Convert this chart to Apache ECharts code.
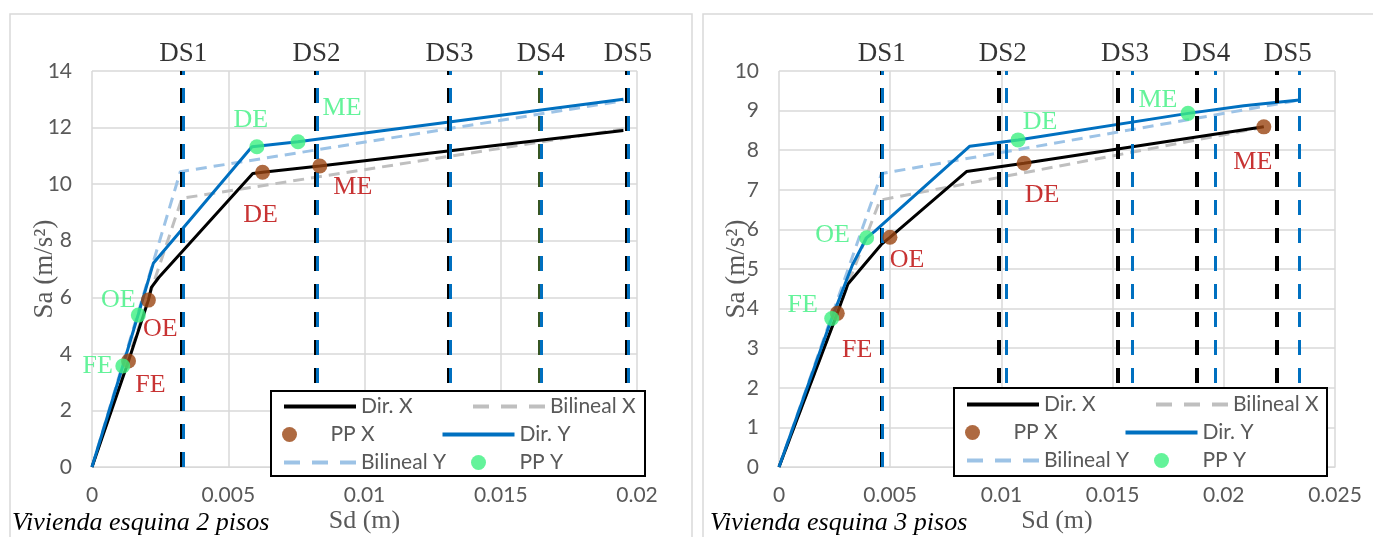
<!DOCTYPE html>
<html lang="es">
<head>
<meta charset="utf-8">
<script src="https://cdn.jsdelivr.net/npm/echarts@6.0.0/dist/echarts.min.js"></script>
<style>
  html, body { margin: 0; padding: 0; background: #fff; }
  #chart { width: 1373px; height: 537px; }
</style>
</head>
<body>
<div id="chart"></div>
<script>
// ---- Vivienda esquina 2 pisos ----
var dirX2 = [[0, 0], [0.00134, 3.75], [0.00207, 5.9], [0.00218, 6.35], [0.00245, 6.7], [0.0059, 10.38], [0.00626, 10.42], [0.00836, 10.64], [0.0195, 11.9]];
var dirY2 = [[0, 0], [0.00113, 3.57], [0.0017, 5.4], [0.00225, 7.2], [0.00587, 11.32], [0.00605, 11.34], [0.00756, 11.5], [0.0195, 13.0]];
var bilX2 = [[0, 0], [0.0033, 9.5], [0.0195, 11.95]];
var bilY2 = [[0, 0], [0.00324, 10.44], [0.0195, 12.95]];
var ppX2 = [[0.00134, 3.75], [0.00207, 5.9], [0.00626, 10.42], [0.00836, 10.64]];
var ppY2 = [[0.00113, 3.57], [0.0017, 5.37], [0.00605, 11.32], [0.00756, 11.5]];
var dsX2 = [0.00333, 0.00822, 0.01311, 0.01645, 0.01965];
var dsY2 = [0.00336, 0.00825, 0.01313, 0.01648, 0.01968];

// ---- Vivienda esquina 3 pisos ----
var dirX3 = [[0, 0], [0.00262, 3.88], [0.0031, 4.62], [0.0046, 5.62], [0.00499, 5.8], [0.00843, 7.46], [0.01102, 7.67], [0.0218, 8.59]];
var dirY3 = [[0, 0], [0.00237, 3.75], [0.0033, 5.1], [0.00394, 5.79], [0.0043, 5.95], [0.00858, 8.1], [0.01075, 8.26], [0.01839, 8.93], [0.0209, 9.12], [0.0234, 9.27]];
var bilX3 = [[0, 0], [0.00454, 6.74], [0.0215, 8.55]];
var bilY3 = [[0, 0], [0.00461, 7.41], [0.02326, 9.25]];
var ppX3 = [[0.00262, 3.88], [0.00499, 5.8], [0.01102, 7.67], [0.0218, 8.59]];
var ppY3 = [[0.00237, 3.75], [0.00394, 5.79], [0.01075, 8.26], [0.01839, 8.93]];
var dsX3 = [0.00461, 0.00988, 0.01521, 0.01878, 0.02236];
var dsY3 = [0.00464, 0.01024, 0.0159, 0.01963, 0.0234];

var ppNames = ['FE', 'OE', 'DE', 'ME'];
var dsNames = ['DS1', 'DS2', 'DS3', 'DS4', 'DS5'];
var captions = ['Vivienda esquina 2 pisos', 'Vivienda esquina 3 pisos'];

// label offsets (px) for the performance point labels
var offX2 = [[22, 24], [12, 29], [-2, 43], [33, 21]];
var offY2 = [[-25, 0], [-20, -15], [-6, -27], [44, -34]];
var offX3 = [[20, 37], [17, 23], [18, 32], [-11, 35]];
var offY3 = [[-29, -13], [-34, -3], [22, -18], [-30, -13]];

var C_BLACK = '#000000', C_BLUE = '#0070C0', C_GRAY = '#BFBFBF', C_LBLUE = '#9DC3E6';
var C_BROWN = '#9A4511', C_GREEN = '#3DF081', C_RED = '#BA0000';
var serif = '"Liberation Serif", "Times New Roman", serif';
var sans = 'Lato, "Open Sans", sans-serif';

var chart = echarts.init(document.getElementById('chart'));

function curve(name, data, color, dashed, gi, dsVals, dsWidth, dsColors) {
  var s = {
    type: 'line', name: name, data: data, xAxisIndex: gi, yAxisIndex: gi,
    symbol: 'none', color: color, z: 2, animation: false,
    lineStyle: { color: color, width: 3, type: dashed ? [11, 7] : 'solid' }
  };
  if (dsVals) {
    s.markLine = {
      silent: true, symbol: ['none', 'none'], animation: false, z: 5, precision: 6,
      label: { show: false },
      lineStyle: { color: color, width: dsWidth, type: [15, 13] },
      data: dsVals.map(function (v, i) {
        var d = { xAxis: v };
        if (dsColors && dsColors[i]) d.lineStyle = { color: dsColors[i] };
        return d;
      })
    };
  }
  return s;
}

function points(name, data, color, labelColor, offs, gi) {
  return {
    type: 'scatter', name: name, xAxisIndex: gi, yAxisIndex: gi,
    symbol: 'circle', symbolSize: 15, color: color, z: 6, animation: false,
    itemStyle: { color: color },
    label: { show: true, position: 'inside', formatter: '{b}', color: labelColor,
             fontFamily: serif, fontSize: 26 },
    data: data.map(function (p, i) {
      return { name: ppNames[i], value: p, label: { offset: offs[i] } };
    })
  };
}

function dsLabels(xs, ys, top, gi) {
  return {
    type: 'scatter', xAxisIndex: gi, yAxisIndex: gi, symbolSize: 0, z: 7, silent: true,
    animation: false,
    label: { show: true, position: 'top', distance: 4, formatter: '{b}', color: '#000',
             fontFamily: serif, fontSize: 27 },
    data: xs.map(function (v, i) {
      return { name: dsNames[i], value: [(v + ys[i]) / 2, top] };
    })
  };
}

function xAxis(gi, max) {
  return {
    type: 'value', gridIndex: gi, min: 0, max: max, interval: 0.005,
    name: 'Sd (m)', nameLocation: 'middle', nameGap: 41, nameMoveOverlap: false,
    nameTextStyle: { fontFamily: serif, fontSize: 26, color: '#595959' },
    axisLine: { show: true, lineStyle: { color: '#D9D9D9', width: 1 } },
    axisTick: { show: false },
    axisLabel: { margin: 18, fontFamily: sans, fontSize: 21, color: '#595959' },
    splitLine: { show: true, lineStyle: { color: '#D9D9D9', width: 1.5 } }
  };
}

function yAxis(gi, max, step, gap) {
  return {
    type: 'value', gridIndex: gi, min: 0, max: max, interval: step,
    name: 'Sa (m/s²)', nameLocation: 'middle', nameGap: gap, nameMoveOverlap: false,
    nameTextStyle: { fontFamily: serif, fontSize: 27, color: '#595959' },
    axisLine: { show: false }, axisTick: { show: false },
    axisLabel: { margin: 20, fontFamily: sans, fontSize: 21, color: '#595959' },
    splitLine: { show: true, lineStyle: { color: '#D9D9D9', width: 1.5 } }
  };
}

function legendRow(left, top, names) {
  return {
    left: left, top: top, orient: 'horizontal', padding: 0, z: 9,
    itemWidth: 72, itemHeight: 15, itemGap: 20, selectedMode: false,
    lineStyle: { width: 4 },
    textStyle: { width: 90, lineHeight: 15, fontFamily: sans, fontSize: 21, color: '#595959' },
    data: names.map(function (n) {
      if (n.indexOf('PP') === 0) return { name: n };
      var item = { name: n, itemStyle: { opacity: 0 }, lineStyle: { width: 4 } };
      if (n.indexOf('Bilineal') === 0) item.lineStyle.type = [16, 12];
      return item;
    })
  };
}

var rows = [['Dir. X', 'Bilineal X'], ['PP X', 'Dir. Y'], ['Bilineal Y', 'PP Y']];

var option = {
  backgroundColor: '#fff',
  animation: false,
  grid: [
    { left: 92, top: 71, width: 545, height: 396, outerBoundsMode: 'none' },
    { left: 779, top: 71, width: 556, height: 396, outerBoundsMode: 'none' }
  ],
  xAxis: [xAxis(0, 0.02), xAxis(1, 0.025)],
  yAxis: [yAxis(0, 14, 2, 34), yAxis(1, 10, 1, 29)],
  legend: [
    legendRow(282, 396, rows[0]), legendRow(282, 424, rows[1]), legendRow(282, 452, rows[2]),
    legendRow(965, 394, rows[0]), legendRow(965, 422, rows[1]), legendRow(965, 450, rows[2])
  ],
  graphic: [
    { type: 'rect', shape: { x: 10, y: 14, width: 682, height: 540 }, style: { fill: null, stroke: '#D9D9D9', lineWidth: 1.5 }, z: -10 },
    { type: 'rect', shape: { x: 703, y: 14, width: 690, height: 540 }, style: { fill: null, stroke: '#D9D9D9', lineWidth: 1.5 }, z: -10 },
    { type: 'rect', shape: { x: 271, y: 391, width: 374, height: 85 }, style: { fill: '#fff', stroke: '#000', lineWidth: 2 }, z: 8 },
    { type: 'rect', shape: { x: 954, y: 388, width: 373, height: 88 }, style: { fill: '#fff', stroke: '#000', lineWidth: 2 }, z: 8 },
    { type: 'text', left: 12, top: 510, z: 10, style: { text: captions[0], fontFamily: serif, fontStyle: 'italic', fontSize: 26, fill: '#000' } },
    { type: 'text', left: 710, top: 510, z: 10, style: { text: captions[1], fontFamily: serif, fontStyle: 'italic', fontSize: 26, fill: '#000' } }
  ],
  series: [
    curve('Bilineal X', bilX2, C_GRAY, true, 0),
    curve('Bilineal Y', bilY2, C_LBLUE, true, 0),
    curve('Dir. X', dirX2, C_BLACK, false, 0, dsX2, 5, [null, null, null, '#375623', null]),
    curve('Dir. Y', dirY2, C_BLUE, false, 0, dsY2, 3),
    points('PP X', ppX2, C_BROWN, C_RED, offX2, 0),
    points('PP Y', ppY2, C_GREEN, C_GREEN, offY2, 0),
    dsLabels(dsX2, dsY2, 14, 0),

    curve('Bilineal X', bilX3, C_GRAY, true, 1),
    curve('Bilineal Y', bilY3, C_LBLUE, true, 1),
    curve('Dir. X', dirX3, C_BLACK, false, 1, dsX3, 4),
    curve('Dir. Y', dirY3, C_BLUE, false, 1, dsY3, 3),
    points('PP X', ppX3, C_BROWN, C_RED, offX3, 1),
    points('PP Y', ppY3, C_GREEN, C_GREEN, offY3, 1),
    dsLabels(dsX3, dsY3, 10, 1)
  ]
};

chart.setOption(option);
</script>
</body>
</html>
